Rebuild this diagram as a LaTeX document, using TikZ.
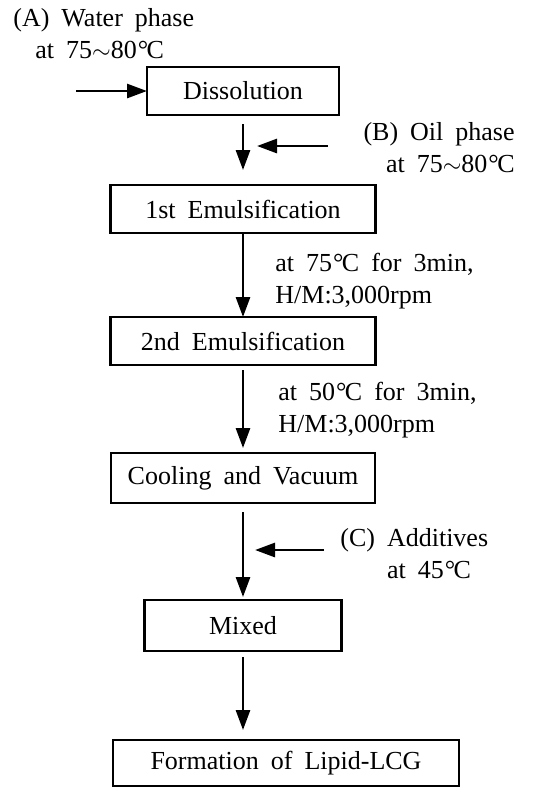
\documentclass[tikz,border=0pt]{standalone}
\usepackage{fontspec}
\setmainfont{Liberation Serif}
\usepackage{tikz}
\usetikzlibrary{arrows.meta,positioning,calc}
\newcommand{\degC}{\kern0.5pt°\kern-0.8pt C}
\newcommand{\widesp}{\spaceskip=6pt plus 1pt\relax}

\begin{document}
\begin{tikzpicture}[font=\fontsize{13}{16}\selectfont\widesp, box/.style={draw, line width=1.3pt, align=center, inner sep=0pt, outer sep=0pt, minimum height=24pt}, arr/.style={-{Triangle[length=10pt,width=7pt]}, line width=1.4pt}, note/.style={align=left, inner sep=0pt}]
\useasboundingbox (0,0) rectangle (267pt,-394.5pt);
\node[box, minimum width=96pt] (dis) at (121.5pt,-45.5pt) {Dissolution};
\node[box, below=35pt of dis, minimum width=132.5pt] (emu1) {1st Emulsification};
\node[box, below=42pt of emu1, minimum width=132.5pt] (emu2) {2nd Emulsification};
\node[box, below=44pt of emu2, minimum width=132pt, minimum height=25pt] (cool) {Cooling and Vacuum};
\node[box, below=48.5pt of cool, minimum width=98.5pt, minimum height=25.5pt] (mix) {Mixed};
\node[box, below=44.5pt of mix, xshift=21.5pt, minimum width=173pt, minimum height=23pt] (form) {Formation of Lipid-LCG};
% inputs
\coordinate[left=35.5pt of dis.west] (water);
\coordinate (oil) at ($(dis.south)!0.5!(emu1.north)+(42.5pt,2pt)$);
\coordinate (oiltip) at ($(dis.south)!0.5!(emu1.north)+(7pt,2pt)$);
\coordinate (add) at ($(cool.south)!0.5!(mix.north)+(40.5pt,0.75pt)$);
\coordinate (addtip) at ($(cool.south)!0.5!(mix.north)+(6pt,0.75pt)$);
\node[note, anchor=west] (waterlbl) at (6.5pt,-17pt) {(A) Water phase\\\hspace*{11pt}at 75$\sim$80\degC};
\node[note, align=right, anchor=east] (oillbl) at ($(oil)+(93.5pt,-1pt)$) {(B) Oil phase\\at 75$\sim$80\degC};
\node[note, anchor=west] (cond1) at ($(emu1.south)!0.5!(emu2.north)+(16pt,-3pt)$) {at 75\degC\ for 3min,\\H/M:3,000rpm};
\node[note, anchor=west] (cond2) at ($(emu2.south)!0.5!(cool.north)+(17.5pt,-0.5pt)$) {at 50\degC\ for 3min,\\H/M:3,000rpm};
\node[note, right=8pt of add, yshift=-2pt] (addlbl) {(C) Additives\\\hphantom{(C)\ }at 45\degC};
\draw[arr] (water) -- (dis.west);
\draw[arr] (oil) -- (oiltip);
\draw[arr] (add) -- (addtip);
% main flow
\draw[arr, shorten <=4.5pt, shorten >=7.5pt] (dis) -- (emu1);
\draw[arr] (emu1) -- (emu2);
\draw[arr, shorten <=2.5pt, shorten >=2.5pt] (emu2) -- (cool);
\draw[arr, shorten <=4.5pt, shorten >=1.5pt] (cool) -- (mix);
\draw[arr, shorten <=3pt, shorten >=5pt] (mix.south) -- (mix.south |- form.north);
\end{tikzpicture}
\end{document}
